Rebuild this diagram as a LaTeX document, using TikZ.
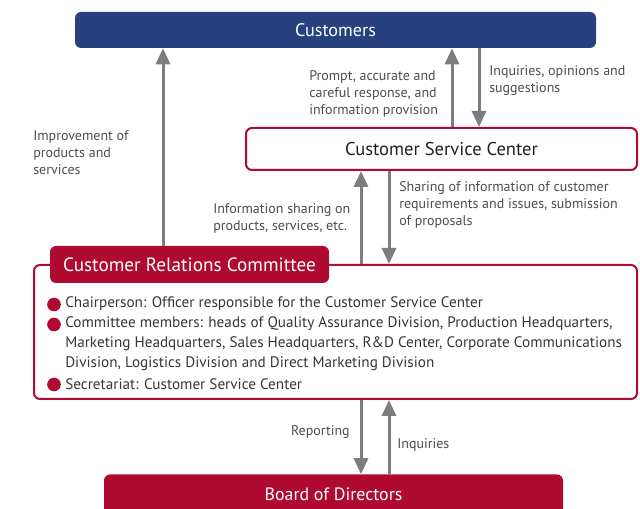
\documentclass[tikz,border=0pt]{standalone}
\usepackage{fontspec}
\setmainfont{PT Sans}
\usetikzlibrary{arrows.meta}
\definecolor{cblue}{HTML}{27417F}
\definecolor{cred}{HTML}{AF0A2F}
\definecolor{cgray}{HTML}{7D7D7F}
\definecolor{ctext}{HTML}{4D4D4F}
\definecolor{cdark}{HTML}{231F20}
\tikzset{
  bluebox/.style={draw=none, fill=cblue, rounded corners=4.5pt, text=white, inner sep=0pt},
  redbox/.style={draw=none, fill=cred, rounded corners=4.5pt, text=white, inner sep=0pt},
  framebox/.style={draw=cred, line width=1.5pt, fill=white, rounded corners=4.5pt, inner sep=0pt},
  arr/.style={draw=cgray, line width=2.25pt, -{Triangle[width=10.5pt,length=12pt]}},
  lbl/.style={text=ctext, font=\fontsize{10.5}{12.75}\selectfont, align=left, inner sep=0pt, anchor=north west},
  item/.style={text=cdark!90, font=\fontsize{11.4}{15}\selectfont, inner sep=0pt, anchor=west},
  bullet/.style={circle, fill=cred, minimum size=10.25pt, inner sep=0pt}
}
\begin{document}
\begin{tikzpicture}[x=0.75pt,y=-0.75pt]
\useasboundingbox (0,0) rectangle (640,509);
\clip (0,0) rectangle (640,509);
% boxes
\node[bluebox, minimum width=390.75pt, minimum height=27pt, font=\fontsize{13.6}{15}\selectfont] (cust) at (335.5,30) {Customers};
\node[framebox, minimum width=293.25pt, minimum height=31.5pt, text=cdark, font=\fontsize{13.9}{15}\selectfont] (csc) at (441.5,149) {Customer Service Center};
\node[framebox, minimum width=452.25pt, minimum height=100.5pt] (crc) at (335.5,332) {};
\node[redbox, minimum width=209.25pt, minimum height=27.75pt, font=\fontsize{14.4}{16}\selectfont] (tab) at (189.5,264.5) {Customer Relations Committee};
\node[redbox, minimum width=344.25pt, minimum height=30pt, font=\fontsize{13.4}{15}\selectfont] (board) at (333.5,494.5) {Board of Directors};
% committee content
\node[bullet] (b1) at (54,304.5) {};
\node[bullet] (b2) at (54,324.5) {};
\node[bullet] (b3) at (54,384.5) {};
\node[item] (t1) at (65,304) {Chairperson: Officer responsible for the Customer Service Center};
\node[item] (t2) at (65,324) {Committee members: heads of Quality Assurance Division, Production Headquarters,};
\node[item] (t3) at (65,344) {Marketing Headquarters, Sales Headquarters, R\&D Center, Corporate Communications};
\node[item] (t4) at (65,364) {Division, Logistics Division and Direct Marketing Division};
\node[item] (t5) at (65,384) {Secretariat: Customer Service Center};
% arrow x positions
\coordinate (xa) at (163,0);
\coordinate (xb) at (452,0);
\coordinate (xc) at (479,0);
\coordinate (xd) at (361,0);
\coordinate (xe) at (389,0);
% arrows
\draw[arr] (xa |- tab.north) -- (xa |- cust.south);
\draw[arr] (xb |- csc.north) -- (xb |- cust.south);
\draw[arr] (xc |- cust.south) -- (xc |- csc.north);
\draw[arr] (xd |- crc.north) -- (xd |- csc.south);
\draw[arr] (xe |- csc.south) -- (xe |- crc.north);
\draw[arr] (xd |- crc.south) -- (xd |- board.north);
\draw[arr] (xe |- board.north) -- (xe |- crc.south);
% labels
\node[lbl] (l1) at (33,130) {Improvement of\\products and\\services};
\node[lbl] (l2) at (309,70) {Prompt, accurate and\\careful response, and\\information provision};
\node[lbl] (l3) at (489,65) {Inquiries, opinions and\\suggestions};
\node[lbl] (l4) at (213,203) {Information sharing on\\products, services, etc.};
\node[lbl] (l5) at (399,181) {Sharing of information of customer\\requirements and issues, submission\\of proposals};
\node[lbl, anchor=north east] (l6) at (350,425) {Reporting};
\node[lbl] (l7) at (397,438) {Inquiries};
\end{tikzpicture}
\end{document}
